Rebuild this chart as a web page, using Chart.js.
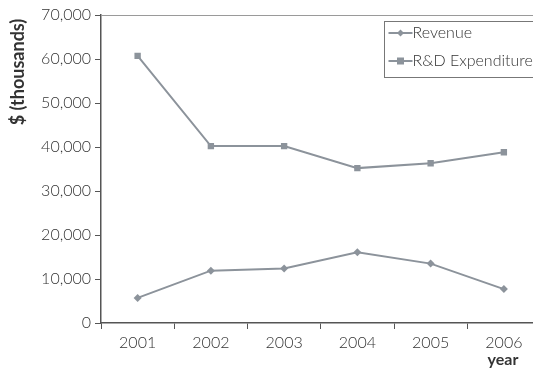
<!DOCTYPE html>
<html>
<head>
<meta charset="utf-8">
<script src="https://cdn.jsdelivr.net/npm/chart.js@4/dist/chart.umd.min.js"></script>
<style>
  html, body { margin: 0; padding: 0; background: #fff; overflow: hidden; }
  #wrap { width: 545px; height: 369px; }
</style>
</head>
<body>
<div id="wrap"><canvas id="c" width="545" height="369"></canvas></div>
<script>
const years = ['2001', '2002', '2003', '2004', '2005', '2006'];
const revenue = [5700, 11900, 12400, 16100, 13500, 7700];
const rdExpenditure = [60700, 40200, 40200, 35200, 36300, 38800];
const yTicks = [0, 10000, 20000, 30000, 40000, 50000, 60000, 70000];

const FONT = 'Lato, "Open Sans", sans-serif';
const LINE = '#8c939b';
const AXIS = '#555';
const TEXT = '#333';

// Axis titles and the boxed legend in the upper right
const decorations = {
  id: 'decorations',
  afterDraw(chart) {
    const ctx = chart.ctx;
    const area = chart.chartArea;
    ctx.save();

    // top border of the plot
    ctx.strokeStyle = '#9a9a9a';
    ctx.lineWidth = 1;
    ctx.beginPath();
    ctx.moveTo(area.left, area.top + 0.5);
    ctx.lineTo(chart.width, area.top + 0.5);
    ctx.stroke();

    // y-axis title
    ctx.fillStyle = TEXT;
    ctx.font = 'bold 18px ' + FONT;
    ctx.translate(18, 72);
    ctx.rotate(-Math.PI / 2);
    ctx.textAlign = 'center';
    ctx.textBaseline = 'middle';
    ctx.fillText('$ (thousands)', 0, 0);
    ctx.setTransform(1, 0, 0, 1, 0, 0);

    // x-axis title
    ctx.font = 'bold 16px ' + FONT;
    ctx.textAlign = 'center';
    ctx.textBaseline = 'middle';
    ctx.fillText('year', 503, 360);

    // legend box
    const bx = 384.5, by = 21.5, bw = 160, bh = 56;
    ctx.fillStyle = '#fff';
    ctx.fillRect(bx, by, bw, bh);
    ctx.strokeStyle = '#777';
    ctx.strokeRect(bx, by, bw, bh);

    chart.data.datasets.forEach((ds, i) => {
      const y = 33 + i * 28;
      ctx.strokeStyle = LINE;
      ctx.lineWidth = 2;
      ctx.beginPath();
      ctx.moveTo(bx + 4, y);
      ctx.lineTo(bx + 28, y);
      ctx.stroke();
      ctx.fillStyle = LINE;
      const mx = bx + 16;
      if (ds.pointStyle === 'rectRot') {
        ctx.beginPath();
        ctx.moveTo(mx, y - 3.5);
        ctx.lineTo(mx + 3.5, y);
        ctx.lineTo(mx, y + 3.5);
        ctx.lineTo(mx - 3.5, y);
        ctx.closePath();
        ctx.fill();
      } else {
        ctx.fillRect(mx - 3.5, y - 3.5, 7, 7);
      }
      ctx.fillStyle = TEXT;
      ctx.font = '300 16px ' + FONT;
      ctx.textAlign = 'left';
      ctx.textBaseline = 'middle';
      ctx.fillText(ds.label, bx + 28, y);
    });
    ctx.restore();
  }
};

new Chart(document.getElementById('c'), {
  type: 'line',
  data: {
    labels: years,
    datasets: [
      {
        label: 'Revenue',
        data: revenue,
        borderColor: LINE,
        backgroundColor: LINE,
        borderWidth: 2,
        pointStyle: 'rectRot',
        pointRadius: 4,
        pointBorderWidth: 0,
        tension: 0
      },
      {
        label: 'R&D Expenditure',
        data: rdExpenditure,
        borderColor: LINE,
        backgroundColor: LINE,
        borderWidth: 2,
        pointStyle: 'rect',
        pointRadius: 4.5,
        pointBorderWidth: 0,
        tension: 0
      }
    ]
  },
  options: {
    responsive: false,
    animation: false,
    layout: { padding: { top: 15, right: 3, left: 0, bottom: 0 } },
    plugins: {
      legend: { display: false },
      tooltip: { enabled: false }
    },
    scales: {
      x: {
        offset: true,
        grid: {
          offset: true,
          drawOnChartArea: false,
          drawTicks: true,
          tickLength: 6,
          color: AXIS
        },
        border: { color: AXIS, width: 1.5 },
        ticks: {
          color: TEXT,
          font: { family: FONT, size: 16, weight: '300' },
          padding: 4,
          maxRotation: 0
        },
        afterFit(scale) { scale.height = 46; }
      },
      y: {
        min: 0,
        max: 70000,
        afterBuildTicks(scale) {
          scale.ticks = yTicks.map(v => ({ value: v }));
        },
        grid: {
          drawOnChartArea: false,
          drawTicks: true,
          tickLength: 6,
          color: AXIS
        },
        border: { color: AXIS, width: 1.5 },
        ticks: {
          color: TEXT,
          font: { family: FONT, size: 16, weight: '300' },
          padding: 4,
          callback: v => v.toLocaleString('en-US')
        },
        afterFit(scale) { scale.width = 101; }
      }
    }
  },
  plugins: [decorations]
});
</script>
</body>
</html>
